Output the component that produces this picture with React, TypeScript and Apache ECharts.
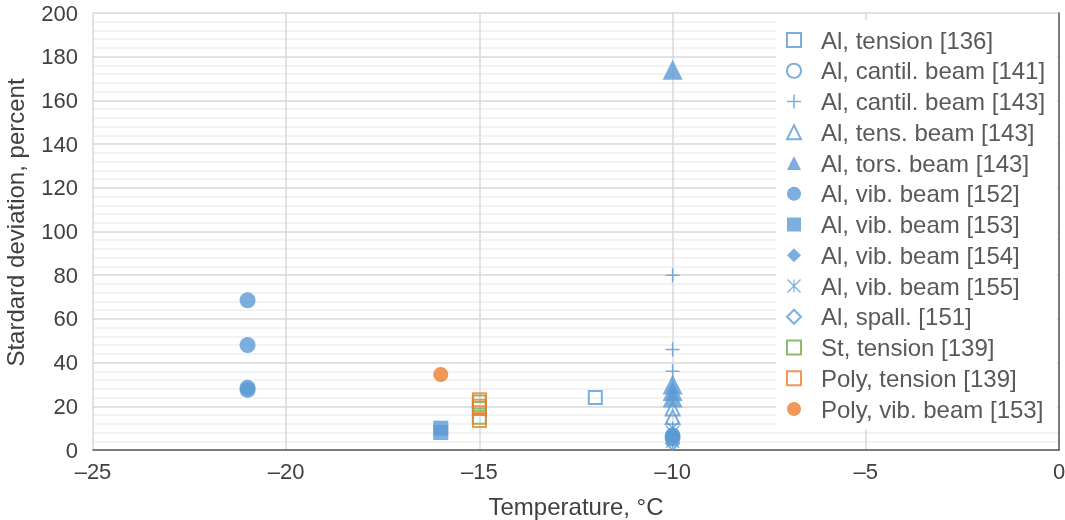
import React, { useEffect, useRef } from "react";
import * as echarts from "echarts";

// ---- Data (temperature °C, standard deviation %) ----
const alTension136 = [[-12, 24]];
const alCantil141 = [[-10, 7], [-10, 5]];
const alCantil143 = [[-10, 80], [-10, 46], [-10, 36]];
const alTensBeam143 = [[-10, 19], [-10, 15]];
const alTorsBeam143 = [[-10, 174], [-10, 30], [-10, 27], [-10, 24]];
const alVib152 = [[-21, 68.5], [-21, 48], [-21, 28.5], [-21, 27.5], [-10, 6]];
const alVib153 = [[-16, 10], [-16, 8]];
const alVib154 = [[-10, 7]];
const alVib155 = [[-10, 10], [-10, 8], [-10, 4]];
const alSpall151 = [[-10, 3], [-10, 5]];
const stTension139 = [[-15, 22], [-15, 19], [-15, 15]];
const polyTension139 = [[-15, 23], [-15, 20], [-15, 13.5]];
const polyVib153 = [[-16, 34.5]];

const xTicks = [-25, -20, -15, -10, -5, 0];
const yTicks = [0, 20, 40, 60, 80, 100, 120, 140, 160, 180, 200];

const BLUE = "#5B9BD5";
const ORANGE = "#ED7D31";
const GREEN = "#70AD47";

const PLUS = "path://M-1,-0.11H1V0.11H-1Z M-0.11,-1H0.11V1H-0.11Z";
const ASTER =
  "path://M-0.09,-1H0.09V1H-0.09Z M-0.93,-1.07L1.07,0.93L0.93,1.07L-1.07,-0.93Z M0.93,-1.07L1.07,-0.93L-0.93,1.07L-1.07,0.93Z";

type S = { name: string; data: number[][]; symbol: string; size: number; color: string; hollow?: boolean };

const seriesDefs: S[] = [
  { name: "Al, tension [136]", data: alTension136, symbol: "rect", size: 13, color: BLUE, hollow: true },
  { name: "Al, cantil. beam [141]", data: alCantil141, symbol: "circle", size: 13, color: BLUE, hollow: true },
  { name: "Al, cantil. beam [143]", data: alCantil143, symbol: PLUS, size: 14, color: BLUE },
  { name: "Al, tens. beam [143]", data: alTensBeam143, symbol: "triangle", size: 14, color: BLUE, hollow: true },
  { name: "Al, tors. beam [143]", data: alTorsBeam143, symbol: "triangle", size: 20, color: BLUE },
  { name: "Al, vib. beam [152]", data: alVib152, symbol: "circle", size: 16, color: BLUE },
  { name: "Al, vib. beam [153]", data: alVib153, symbol: "rect", size: 15, color: BLUE },
  { name: "Al, vib. beam [154]", data: alVib154, symbol: "diamond", size: 16, color: BLUE },
  { name: "Al, vib. beam [155]", data: alVib155, symbol: ASTER, size: 14, color: BLUE },
  { name: "Al, spall. [151]", data: alSpall151, symbol: "diamond", size: 13, color: BLUE, hollow: true },
  { name: "St, tension [139]", data: stTension139, symbol: "rect", size: 13, color: GREEN, hollow: true },
  { name: "Poly, tension [139]", data: polyTension139, symbol: "rect", size: 13, color: ORANGE, hollow: true },
  { name: "Poly, vib. beam [153]", data: polyVib153, symbol: "circle", size: 15, color: ORANGE },
];

const FONT = "Liberation Sans, Arial, sans-serif";

export default function App() {
  const ref = useRef<HTMLDivElement>(null);
  useEffect(() => {
    if (!ref.current) return;
    document.body.style.margin = "0";
    document.body.style.overflow = "hidden";
    const chart = echarts.init(ref.current, null, { renderer: "svg" });
    chart.setOption({
      animation: false,
      textStyle: { fontFamily: FONT },
      grid: {
        left: 93,
        right: 6,
        top: 13,
        bottom: 70,
        containLabel: false,
        outerBoundsMode: "none",
      },
      xAxis: {
        type: "value",
        min: xTicks[0],
        max: xTicks[xTicks.length - 1],
        interval: 5,
        name: "Temperature, °C",
        nameLocation: "middle",
        nameGap: 44,
        nameTextStyle: { fontSize: 24, color: "#404040", fontFamily: FONT },
        axisLine: { show: true, onZero: false, lineStyle: { color: "#595959", width: 1.5 } },
        axisTick: { show: false },
        axisLabel: {
          fontSize: 22,
          color: "#404040",
          margin: 10,
          fontFamily: FONT,
          formatter: (v: number) => (v < 0 ? "\u2013" + Math.abs(v) : String(v)),
        },
        splitLine: { show: true, lineStyle: { color: "#d9d9d9", width: 1.5 } },
      },
      yAxis: {
        type: "value",
        min: yTicks[0],
        max: yTicks[yTicks.length - 1],
        interval: 20,
        name: "Stardard deviation, percent",
        nameLocation: "middle",
        nameGap: 66,
        nameTextStyle: { fontSize: 24, color: "#404040", fontFamily: FONT, padding: [0, 0, 0, 18] },
        axisLine: { show: true, lineStyle: { color: "#595959", width: 1.5 } },
        axisTick: { show: false },
        axisLabel: { fontSize: 22, color: "#404040", margin: 15, fontFamily: FONT },
        splitLine: { show: true, lineStyle: { color: "#d9d9d9", width: 1.5 } },
        minorTick: { show: false, splitNumber: 5 },
        minorSplitLine: { show: true, lineStyle: { color: "#efefef", width: 1.5 } },
      },
      legend: {
        orient: "vertical",
        left: 776,
        top: 20,
        padding: [8, 12, 8, 10],
        backgroundColor: "#ffffff",
        itemWidth: 14,
        itemHeight: 14,
        itemGap: 6.75,
        data: seriesDefs.map((s) => s.name),
        textStyle: {
          fontSize: 24,
          lineHeight: 24,
          color: "#595959",
          fontFamily: FONT,
          padding: [0, 0, 0, 15],
        },
      },
      series: seriesDefs.map((s) => ({
        type: "scatter",
        name: s.name,
        data: s.data,
        symbol: s.symbol,
        symbolSize: s.size,
        itemStyle: s.hollow
          ? { color: "rgba(0,0,0,0)", borderColor: s.color, borderWidth: 2 }
          : { color: s.color, borderWidth: 0 },
        emphasis: { disabled: true },
      })),
    });
    return () => chart.dispose();
  }, []);
  return (
    <div
      ref={ref}
      style={{ position: "fixed", left: 0, top: 0, width: 1065, height: 520 }}
    />
  );
}
